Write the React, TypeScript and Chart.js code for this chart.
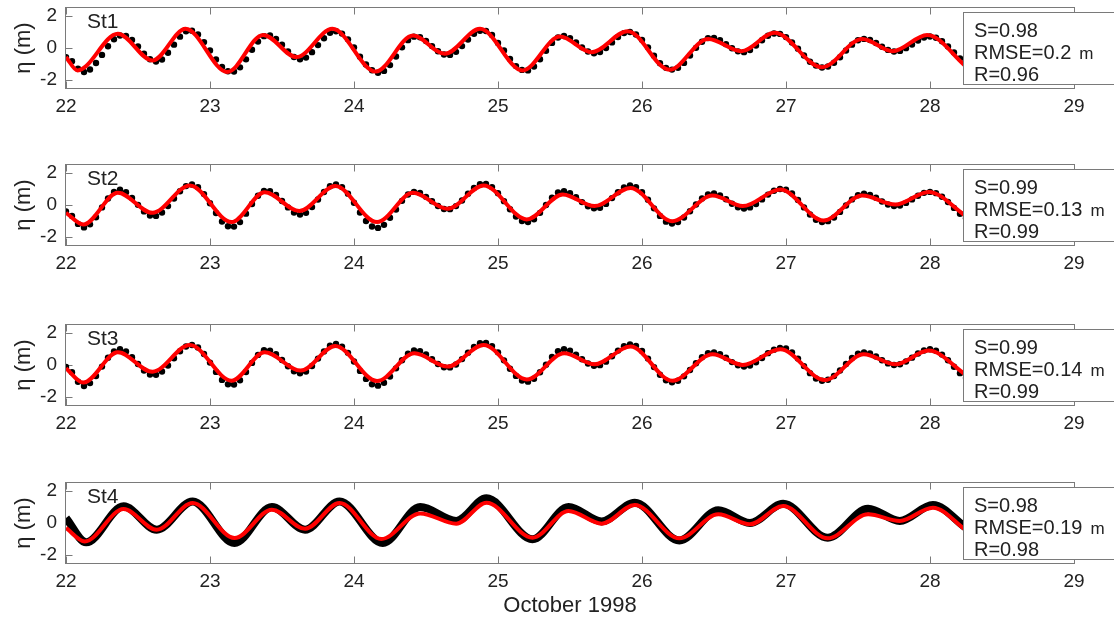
import React, { useEffect, useRef } from 'react';
import { Chart, registerables } from 'chart.js';

Chart.register(...registerables);

// ---------- data ----------
const stationNames = ['St1', 'St2', 'St3', 'St4'];
const skillScores = ['0.98', '0.99', '0.99', '0.98'];
const rmseValues = ['0.2', '0.13', '0.14', '0.19'];
const correlations = ['0.96', '0.99', '0.99', '0.98'];
const xTickDays = [22, 23, 24, 25, 26, 27, 28, 29];
const yTickValues = [-2, 0, 2];
const xAxisLabel = 'October 1998';
const yAxisLabel = 'η (m)';

// hourly observations start at Oct 22 00:00
const obsStartDay = 22;
const obsStepDays = 1 / 24;

const st1Observed = [
  -0.57, -0.83, -1.30, -1.50, -1.34, -0.94, -0.43, 0.11, 0.55, 0.78,
  0.76, 0.50, 0.09, -0.36, -0.70, -0.85, -0.72, -0.30, 0.21, 0.71,
  1.04, 1.08, 0.85, 0.37, -0.15, -0.72, -1.19, -1.45, -1.47, -1.21,
  -0.71, -0.11, 0.41, 0.74, 0.78, 0.57, 0.20, -0.22, -0.56, -0.70,
  -0.60, -0.26, 0.18, 0.61, 0.95, 1.05, 0.90, 0.54, 0.04, -0.54,
  -1.03, -1.39, -1.55, -1.43, -1.07, -0.53, 0.04, 0.49, 0.71, 0.67,
  0.44, 0.12, -0.20, -0.41, -0.43, -0.24, 0.12, 0.53, 0.89, 1.08,
  1.06, 0.81, 0.32, -0.16, -0.68, -1.13, -1.37, -1.40, -1.16, -0.70,
  -0.17, 0.32, 0.66, 0.75, 0.62, 0.35, 0.04, -0.22, -0.33, -0.25,
  0.00, 0.35, 0.69, 0.93, 1.00, 0.84, 0.51, 0.04, -0.48, -0.95,
  -1.24, -1.35, -1.24, -0.93, -0.47, 0.01, 0.39, 0.62, 0.63, 0.48,
  0.24, -0.02, -0.21, -0.26, -0.13, 0.15, 0.48, 0.77, 0.91, 0.88,
  0.68, 0.34, -0.04, -0.47, -0.86, -1.10, -1.22, -1.16, -0.92, -0.58,
  -0.16, 0.21, 0.48, 0.57, 0.50, 0.31, 0.08, -0.12, -0.22, -0.18,
  -0.01, 0.22, 0.47, 0.65, 0.72, 0.64, 0.42, 0.09, -0.28, -0.65,
  -0.93,
];

const st2Observed = [
  -0.40, -0.68, -1.18, -1.40, -1.21, -0.77, -0.15, 0.41, 0.82, 0.95,
  0.80, 0.44, 0.01, -0.40, -0.66, -0.68, -0.47, -0.07, 0.41, 0.86,
  1.18, 1.28, 1.11, 0.68, 0.11, -0.50, -1.03, -1.33, -1.35, -1.07,
  -0.54, 0.06, 0.58, 0.88, 0.86, 0.63, 0.25, -0.15, -0.47, -0.60,
  -0.49, -0.13, 0.34, 0.81, 1.17, 1.28, 1.12, 0.71, 0.14, -0.47,
  -1.00, -1.34, -1.43, -1.24, -0.80, -0.28, 0.26, 0.66, 0.82, 0.75,
  0.51, 0.23, -0.06, -0.25, -0.26, -0.07, 0.28, 0.70, 1.06, 1.30,
  1.32, 1.12, 0.74, 0.24, -0.27, -0.72, -1.00, -1.07, -0.89, -0.49,
  0.00, 0.46, 0.78, 0.86, 0.74, 0.49, 0.18, -0.08, -0.21, -0.17,
  0.07, 0.43, 0.80, 1.09, 1.22, 1.12, 0.80, 0.33, -0.21, -0.68,
  -1.04, -1.16, -1.06, -0.78, -0.39, 0.03, 0.41, 0.66, 0.72, 0.60,
  0.36, 0.08, -0.14, -0.22, -0.15, 0.06, 0.35, 0.65, 0.89, 1.00,
  0.96, 0.72, 0.32, -0.15, -0.59, -0.92, -1.07, -1.01, -0.78, -0.43,
  -0.03, 0.35, 0.61, 0.70, 0.63, 0.45, 0.22, 0.03, -0.07, -0.03,
  0.13, 0.35, 0.58, 0.76, 0.82, 0.74, 0.52, 0.19, -0.18, -0.55,
  -0.83,
];

const st3Observed = [
  -0.12, -0.45, -1.05, -1.31, -1.13, -0.69, -0.10, 0.45, 0.85, 0.98,
  0.84, 0.48, 0.06, -0.34, -0.59, -0.61, -0.41, -0.03, 0.42, 0.86,
  1.16, 1.25, 1.09, 0.69, 0.15, -0.43, -0.93, -1.20, -1.22, -0.95,
  -0.44, 0.13, 0.63, 0.92, 0.90, 0.67, 0.31, -0.08, -0.39, -0.52,
  -0.41, -0.06, 0.40, 0.85, 1.20, 1.31, 1.15, 0.76, 0.22, -0.37,
  -0.87, -1.20, -1.29, -1.11, -0.72, -0.21, 0.30, 0.71, 0.91, 0.87,
  0.66, 0.36, 0.06, -0.14, -0.15, 0.03, 0.37, 0.77, 1.13, 1.36,
  1.38, 1.18, 0.79, 0.29, -0.23, -0.68, -0.97, -1.04, -0.86, -0.45,
  0.02, 0.50, 0.86, 0.98, 0.89, 0.65, 0.36, 0.09, -0.05, -0.01,
  0.21, 0.55, 0.90, 1.17, 1.29, 1.19, 0.88, 0.40, -0.13, -0.61,
  -0.96, -1.08, -0.98, -0.71, -0.31, 0.11, 0.48, 0.73, 0.79, 0.68,
  0.45, 0.18, -0.02, -0.10, -0.03, 0.17, 0.44, 0.74, 0.96, 1.07,
  1.03, 0.79, 0.40, -0.07, -0.51, -0.84, -0.98, -0.92, -0.69, -0.34,
  0.06, 0.44, 0.70, 0.79, 0.72, 0.53, 0.30, 0.10, 0.00, 0.05,
  0.22, 0.46, 0.72, 0.91, 0.98, 0.89, 0.65, 0.30, -0.11, -0.51,
  -0.81,
];

// St4 observations are dense (drawn as a thick band): turning points
const st4ObservedDay = [22.00, 22.14, 22.40, 22.63, 22.88, 23.17, 23.43, 23.66, 23.90, 24.20, 24.46, 24.71, 24.92, 25.24, 25.49, 25.72, 25.95, 26.26, 26.53, 26.75, 26.98, 27.29, 27.57, 27.79, 28.02, 28.25];
const st4ObservedLevel = [0.31, -1.21, 1.04, -0.42, 1.35, -1.25, 1.00, -0.42, 1.35, -1.25, 1.00, 0.13, 1.54, -1.02, 1.00, 0.10, 1.27, -1.09, 0.79, 0.00, 1.20, -0.92, 0.89, 0.13, 1.12, -0.30];

// model (red) turning points
const st1ModelDay = [22.00, 22.08, 22.36, 22.60, 22.83, 23.12, 23.37, 23.60, 23.85, 24.15, 24.41, 24.63, 24.875, 25.17, 25.43, 25.65, 25.90, 26.19, 26.46, 26.69, 26.92, 27.25, 27.53, 27.74, 27.98, 28.25];
const st1ModelLevel = [-0.57, -1.40, 0.89, -0.78, 1.20, -1.50, 0.82, -0.57, 1.20, -1.47, 0.78, -0.36, 1.20, -1.40, 0.72, -0.26, 1.05, -1.36, 0.57, -0.20, 0.95, -1.20, 0.57, -0.20, 0.82, -1.15];
const st2ModelDay = [22.00, 22.12, 22.36, 22.60, 22.86, 23.15, 23.38, 23.62, 23.87, 24.16, 24.41, 24.65, 24.90, 25.20, 25.45, 25.67, 25.92, 26.21, 26.49, 26.70, 26.96, 27.26, 27.53, 27.76, 27.99, 28.25];
const st2ModelLevel = [-0.49, -1.22, 0.76, -0.49, 1.22, -1.07, 0.80, -0.38, 1.18, -1.07, 0.76, -0.24, 1.22, -0.90, 0.66, -0.07, 1.07, -1.01, 0.59, -0.07, 0.97, -0.97, 0.59, 0.03, 0.82, -0.70];
const st3ModelDay = [22.00, 22.12, 22.36, 22.60, 22.86, 23.15, 23.38, 23.63, 23.87, 24.16, 24.42, 24.65, 24.90, 25.20, 25.46, 25.67, 25.92, 26.21, 26.49, 26.70, 26.96, 27.27, 27.54, 27.76, 27.99, 28.25];
const st3ModelLevel = [-0.20, -1.10, 0.79, -0.42, 1.25, -0.98, 0.79, -0.35, 1.19, -1.00, 0.73, -0.10, 1.25, -0.90, 0.73, 0.04, 1.15, -0.98, 0.67, 0.00, 0.98, -0.94, 0.67, 0.04, 0.90, -0.62];
const st4ModelDay = [22.00, 22.13, 22.40, 22.63, 22.88, 23.17, 23.43, 23.66, 23.90, 24.19, 24.46, 24.71, 24.92, 25.24, 25.49, 25.72, 25.95, 26.26, 26.53, 26.75, 26.98, 27.29, 27.57, 27.79, 28.02, 28.25];
const st4ModelLevel = [-0.31, -1.15, 0.87, -0.42, 1.25, -0.94, 0.83, -0.36, 1.25, -1.00, 0.60, -0.04, 1.27, -0.92, 0.75, -0.04, 1.12, -0.96, 0.54, -0.08, 1.06, -0.96, 0.54, 0.13, 0.96, -0.45];

// ---------- styling ----------
const FONT = "'Liberation Sans', Arial, Helvetica, sans-serif";
const AXIS_COLOR = '#7a7a7a';
const TEXT_COLOR = '#222222';
const MODEL_COLOR = '#ff0000';

const hourly = (vals: number[]) => vals.map((v, i) => ({ x: obsStartDay + i * obsStepDays, y: v }));
const paired = (xs: number[], ys: number[]) => xs.map((x, i) => ({ x, y: ys[i] }));

type PanelSpec = {
  obs: { x: number; y: number }[];
  obsAsBand: boolean;
  model: { x: number; y: number }[];
};

const panelSpecs: PanelSpec[] = [
  { obs: hourly(st1Observed), obsAsBand: false, model: paired(st1ModelDay, st1ModelLevel) },
  { obs: hourly(st2Observed), obsAsBand: false, model: paired(st2ModelDay, st2ModelLevel) },
  { obs: hourly(st3Observed), obsAsBand: false, model: paired(st3ModelDay, st3ModelLevel) },
  { obs: paired(st4ObservedDay, st4ObservedLevel), obsAsBand: true, model: paired(st4ModelDay, st4ModelLevel) },
];

const canvasTops = [0, 157, 317, 475];

function Panel({ index }: { index: number }) {
  const ref = useRef<HTMLCanvasElement | null>(null);
  const isLast = index === 3;
  const xAxisHeight = isLast ? 56 : 32;
  const canvasHeight = 8 + 80 + xAxisHeight;

  useEffect(() => {
    const canvas = ref.current;
    if (!canvas) return;
    const spec = panelSpecs[index];

    const framePlugin = {
      id: 'matlabFrame' + index,
      beforeDatasetsDraw(chart: any) {
        const { ctx, chartArea, scales } = chart;
        const { left, right, top, bottom } = chartArea;
        ctx.save();
        ctx.strokeStyle = AXIS_COLOR;
        ctx.lineWidth = 1;
        const l = Math.round(left) - 0.5, r = Math.round(right) + 0.5;
        const t = Math.round(top) - 0.5, b = Math.round(bottom) + 0.5;
        ctx.strokeRect(l, t, r - l, b - t);
        ctx.beginPath();
        xTickDays.forEach((d) => {
          const px = Math.round(scales.x.getPixelForValue(d)) + 0.5;
          ctx.moveTo(px, b); ctx.lineTo(px, b - 7);
          ctx.moveTo(px, t); ctx.lineTo(px, t + 7);
        });
        yTickValues.forEach((v) => {
          const py = Math.round(scales.y.getPixelForValue(v)) + 0.5;
          ctx.moveTo(l, py); ctx.lineTo(l + 7, py);
          ctx.moveTo(r, py); ctx.lineTo(r - 7, py);
        });
        ctx.stroke();
        ctx.restore();
      },
      afterDraw(chart: any) {
        const { ctx, chartArea } = chart;
        const { left, top } = chartArea;
        ctx.save();
        // station name
        ctx.fillStyle = TEXT_COLOR;
        ctx.font = `21px ${FONT}`;
        ctx.textAlign = 'left';
        ctx.textBaseline = 'alphabetic';
        ctx.fillText(stationNames[index], left + 21, top + 19.5);
        // statistics box
        const boxLeft = 963.5;
        const boxTop = Math.round(top) + 4.5;
        const boxBottom = Math.round(top) + 76.5;
        ctx.fillStyle = '#ffffff';
        ctx.fillRect(boxLeft, boxTop, 200, boxBottom - boxTop);
        ctx.strokeStyle = AXIS_COLOR;
        ctx.lineWidth = 1;
        ctx.strokeRect(boxLeft, boxTop, 200, boxBottom - boxTop);
        ctx.fillStyle = TEXT_COLOR;
        ctx.font = `20px ${FONT}`;
        const tx = 974;
        ctx.fillText('S=' + skillScores[index], tx, top + 28.5);
        const rmseText = 'RMSE=' + rmseValues[index];
        ctx.fillText(rmseText, tx, top + 51);
        const w = ctx.measureText(rmseText).width;
        ctx.font = `17px ${FONT}`;
        ctx.fillText('m', tx + w + 8, top + 51);
        ctx.font = `20px ${FONT}`;
        ctx.fillText('R=' + correlations[index], tx, top + 72.5);
        ctx.restore();
      },
    };

    const obsDataset = spec.obsAsBand
      ? {
          label: 'observed',
          data: spec.obs,
          showLine: true,
          borderColor: '#000000',
          backgroundColor: '#000000',
          borderWidth: 8,
          pointRadius: 0,
          cubicInterpolationMode: 'monotone',
          order: 1,
        }
      : {
          label: 'observed',
          data: spec.obs,
          showLine: false,
          backgroundColor: '#000000',
          borderColor: '#000000',
          pointRadius: 3.2,
          pointBorderWidth: 0,
          order: 1,
        };

    const chart = new Chart(canvas, {
      type: 'scatter',
      data: {
        datasets: [
          {
            label: 'model',
            data: spec.model,
            showLine: true,
            borderColor: MODEL_COLOR,
            backgroundColor: MODEL_COLOR,
            borderWidth: 4,
            pointRadius: 0,
            cubicInterpolationMode: 'monotone',
            order: 0,
          } as any,
          obsDataset as any,
        ],
      },
      options: {
        animation: false,
        responsive: false,
        devicePixelRatio: 1,
        events: [],
        layout: { padding: { top: 8, left: 0, right: 40, bottom: 0 } },
        plugins: { legend: { display: false }, tooltip: { enabled: false } },
        scales: {
          x: {
            type: 'linear',
            min: 22,
            max: 29,
            afterBuildTicks: (s: any) => {
              s.ticks = xTickDays.map((v) => ({ value: v }));
            },
            afterFit: (s: any) => {
              s.height = xAxisHeight;
              s.paddingLeft = 0;
              s.paddingRight = 0;
            },
            grid: { display: false, drawTicks: false },
            border: { display: false },
            ticks: {
              font: { family: FONT, size: 19 },
              color: TEXT_COLOR,
              padding: 7,
              maxRotation: 0,
              autoSkip: false,
            },
            title: {
              display: isLast,
              text: xAxisLabel,
              font: { family: FONT, size: 22 },
              color: TEXT_COLOR,
              padding: { top: 0, bottom: 0 },
            },
          },
          y: {
            type: 'linear',
            min: -2.5,
            max: 2.5,
            afterBuildTicks: (s: any) => {
              s.ticks = yTickValues.map((v) => ({ value: v }));
            },
            afterFit: (s: any) => {
              s.width = 66;
              s.paddingTop = 0;
              s.paddingBottom = 0;
            },
            grid: { display: false, drawTicks: false },
            border: { display: false },
            ticks: {
              font: { family: FONT, size: 19 },
              color: TEXT_COLOR,
              padding: 9,
            },
            title: {
              display: true,
              text: yAxisLabel,
              font: { family: FONT, size: 22 },
              color: TEXT_COLOR,
              padding: { top: 11, bottom: 0 },
            },
          },
        },
      } as any,
      plugins: [framePlugin],
    });
    return () => chart.destroy();
  }, [index]);

  return (
    <canvas
      ref={ref}
      width={1114}
      height={canvasHeight}
      style={{ position: 'absolute', left: 0, top: canvasTops[index], display: 'block' }}
    />
  );
}

export default function App() {
  return (
    <div
      style={{
        position: 'absolute',
        left: 0,
        top: 0,
        width: 1114,
        height: 622,
        background: '#ffffff',
        overflow: 'hidden',
      }}
    >
      {[0, 1, 2, 3].map((i) => (
        <Panel key={i} index={i} />
      ))}
    </div>
  );
}
